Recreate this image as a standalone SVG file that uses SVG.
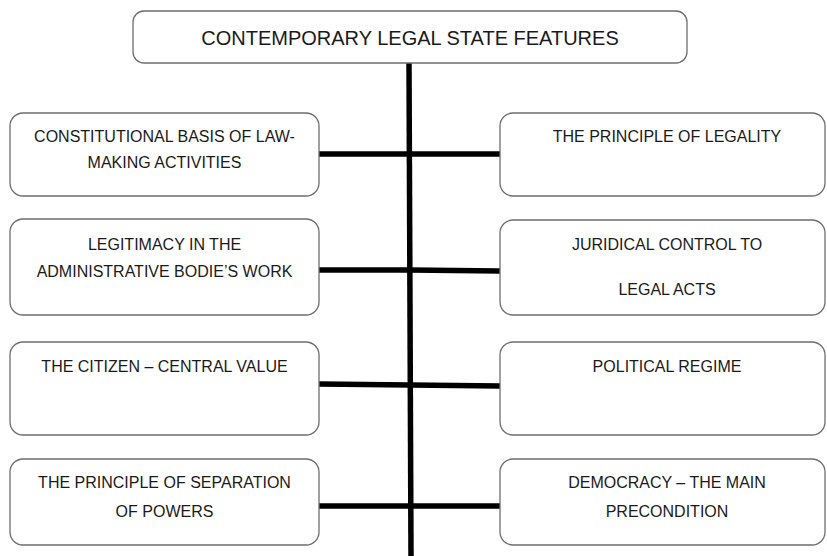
<svg xmlns="http://www.w3.org/2000/svg" width="827" height="556" viewBox="0 0 827 556">
  <style>
    .box { fill: #ffffff; stroke: #6e6e6e; stroke-width: 1.3; }
    .label { font-family: "Liberation Sans", Arial, sans-serif; font-size: 16px; fill: #1a1a1a; text-anchor: middle; }
    .title { font-size: 20px; }
    .wire { stroke: #000000; stroke-width: 5.5; fill: none; stroke-linecap: butt; }
  </style>
  <rect width="827" height="556" fill="#ffffff"/>

  <!-- connectors: trunk from the header down, branches to each feature -->
  <g id="connectors">
    <line class="wire" x1="409" y1="63" x2="411" y2="556"/>
    <line class="wire" x1="319" y1="154" x2="409" y2="154"/>
    <line class="wire" x1="409" y1="154" x2="500" y2="154"/>
    <line class="wire" x1="319" y1="270" x2="410" y2="270"/>
    <line class="wire" x1="410" y1="270" x2="500" y2="271"/>
    <line class="wire" x1="319" y1="384" x2="410" y2="385"/>
    <line class="wire" x1="410" y1="385" x2="500" y2="386"/>
    <line class="wire" x1="319" y1="506" x2="411" y2="506"/>
    <line class="wire" x1="411" y1="506" x2="500" y2="506"/>
  </g>

  <g id="header">
    <rect class="box" x="133" y="11" width="554" height="52" rx="11"/>
    <text class="label title" x="410" y="45">CONTEMPORARY LEGAL STATE FEATURES</text>
  </g>

  <g id="constitutional-basis">
    <rect class="box" x="10" y="113" width="309" height="83" rx="13"/>
    <text class="label" x="164.5" y="142">CONSTITUTIONAL BASIS OF LAW-</text>
    <text class="label" x="164.5" y="168">MAKING ACTIVITIES</text>
  </g>

  <g id="principle-of-legality">
    <rect class="box" x="500" y="113" width="325" height="83" rx="13"/>
    <text class="label" x="667" y="142">THE PRINCIPLE OF LEGALITY</text>
  </g>

  <g id="legitimacy">
    <rect class="box" x="10" y="219" width="309" height="96" rx="13"/>
    <text class="label" x="164.5" y="250">LEGITIMACY IN THE</text>
    <text class="label" x="164.5" y="277">ADMINISTRATIVE BODIE’S WORK</text>
  </g>

  <g id="juridical-control">
    <rect class="box" x="500" y="220" width="325" height="95" rx="13"/>
    <text class="label" x="667" y="250">JURIDICAL CONTROL TO</text>
    <text class="label" x="667" y="295">LEGAL ACTS</text>
  </g>

  <g id="citizen-central-value">
    <rect class="box" x="10" y="342" width="309" height="93" rx="13"/>
    <text class="label" x="164.5" y="372">THE CITIZEN – CENTRAL VALUE</text>
  </g>

  <g id="political-regime">
    <rect class="box" x="500" y="342" width="325" height="93" rx="13"/>
    <text class="label" x="667" y="372">POLITICAL REGIME</text>
  </g>

  <g id="separation-of-powers">
    <rect class="box" x="10" y="459" width="309" height="86" rx="13"/>
    <text class="label" x="164.5" y="488">THE PRINCIPLE OF SEPARATION</text>
    <text class="label" x="164.5" y="517">OF POWERS</text>
  </g>

  <g id="democracy">
    <rect class="box" x="500" y="459" width="325" height="86" rx="13"/>
    <text class="label" x="667" y="488">DEMOCRACY – THE MAIN</text>
    <text class="label" x="667" y="517">PRECONDITION</text>
  </g>
</svg>
